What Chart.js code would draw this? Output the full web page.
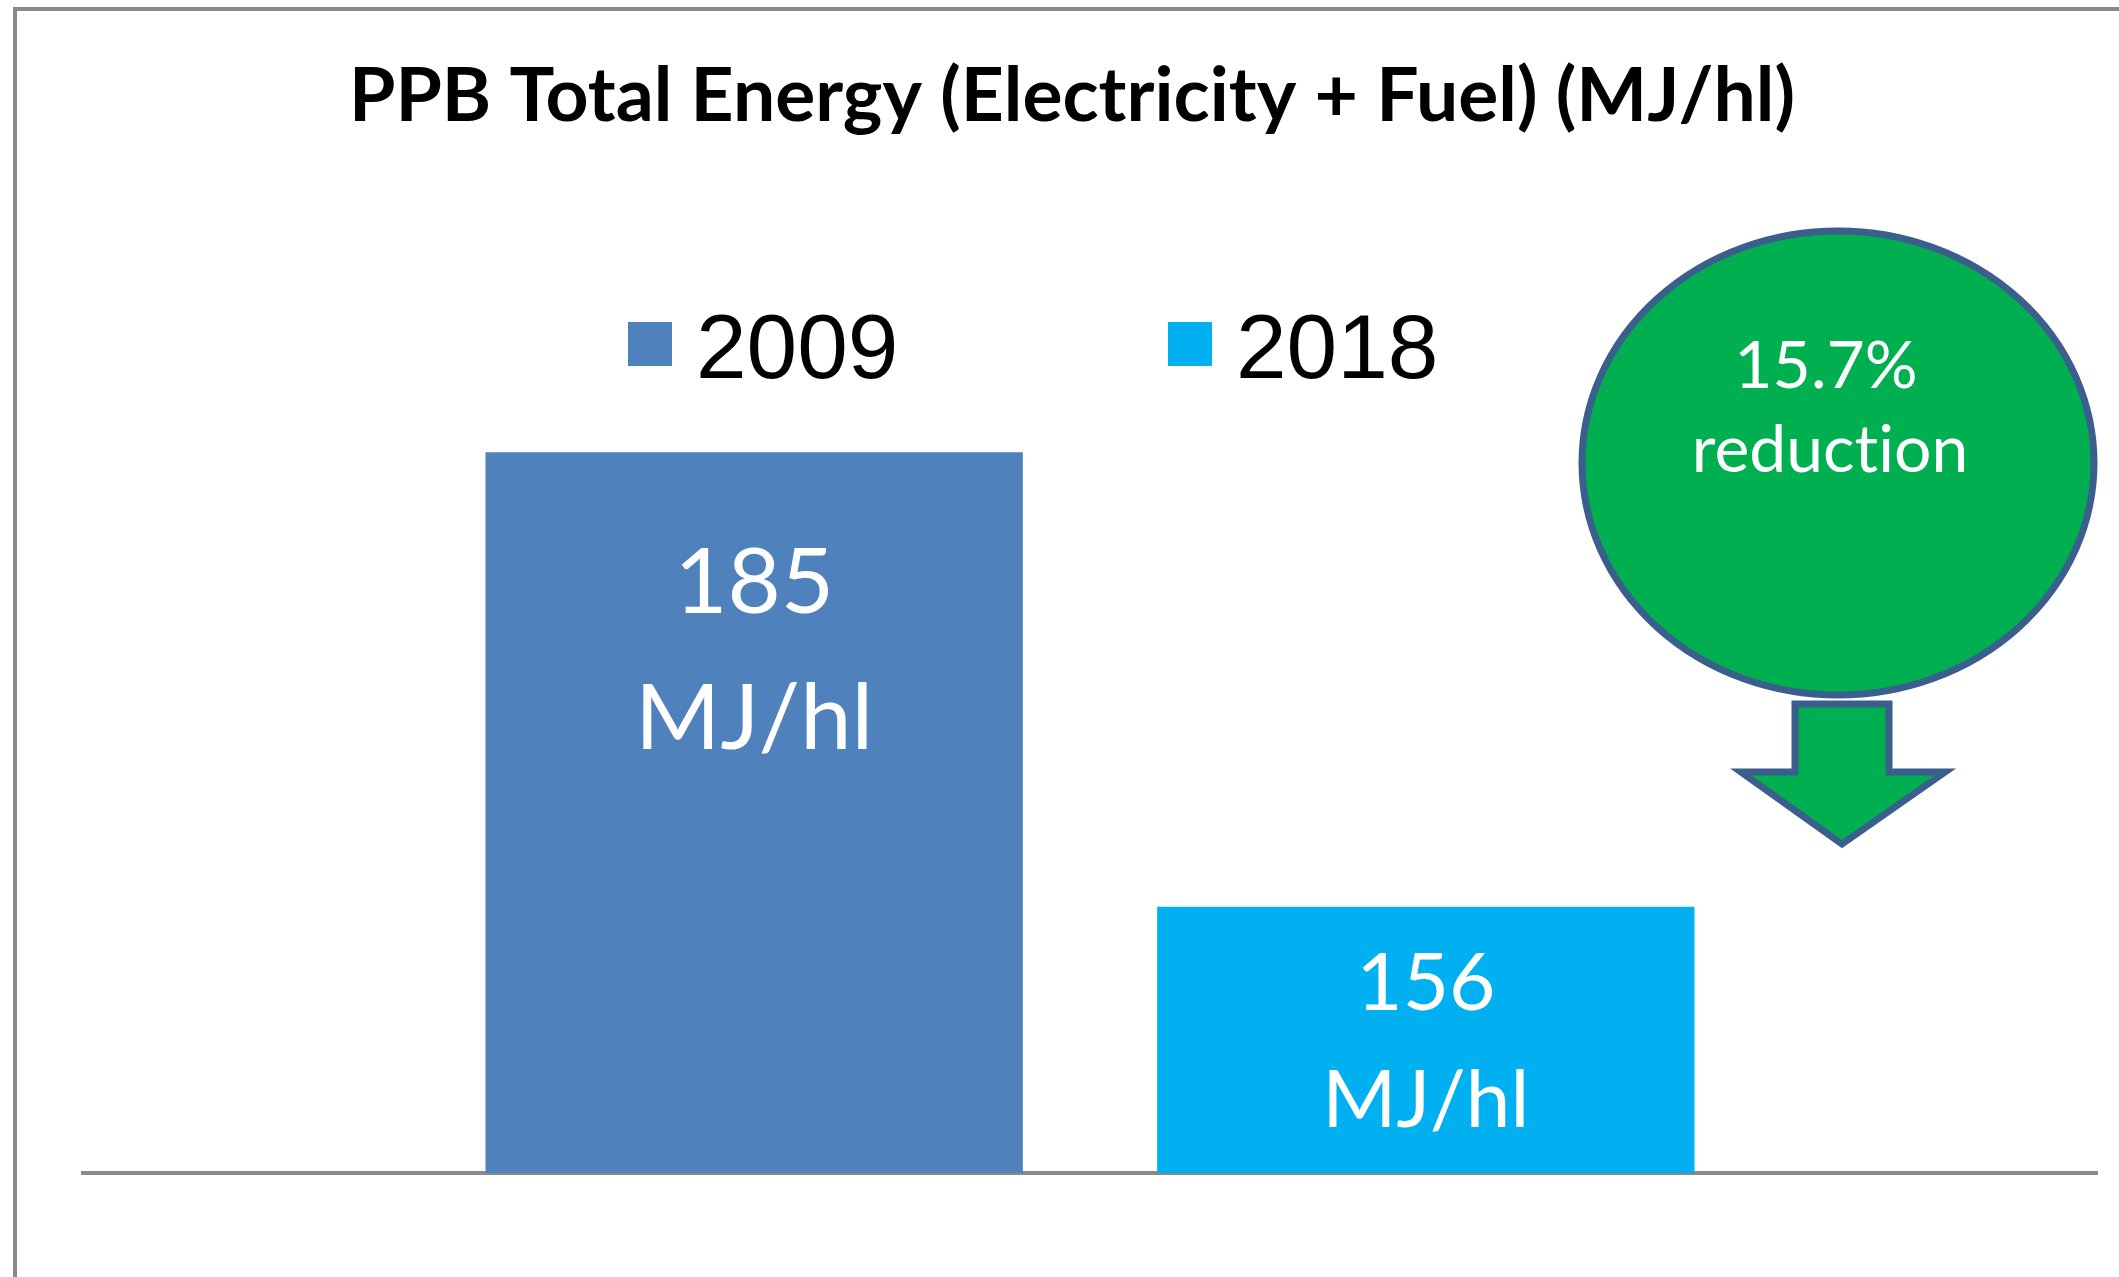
<!DOCTYPE html>
<html>
<head>
<meta charset="utf-8">
<title>PPB Total Energy</title>
<script src="https://cdn.jsdelivr.net/npm/chart.js@4.4.1/dist/chart.umd.min.js"></script>
<style>
  html, body { margin: 0; padding: 0; background: #fff; overflow: hidden; }
  #marco { position: absolute; left: 13px; top: 7px; width: 2200px; height: 1400px; border: 4px solid #898989; }
  #contenedor { position: absolute; left: 0; top: 0; width: 2119px; height: 1277px; }
</style>
</head>
<body>
<div id="marco"></div>
<div id="contenedor"><canvas id="grafico_energia"></canvas></div>
<script>
// datos del grafico
const categorias = ['PPB'];
const series = ['2009', '2018'];
const valores2009 = [185];
const valores2018 = [156];
const unidad = 'MJ/hl';
const titulo = 'PPB Total Energy (Electricity + Fuel) (MJ/hl)';
const rangoY = [139, 190];

const colores = ['#4F81BD', '#00B0F0'];
const tamEtiqueta = [92, 80];

// etiquetas blancas dentro de las barras
const etiquetasBarras = {
  id: 'etiquetasBarras',
  afterDatasetsDraw(chart) {
    let ctx = chart.ctx;
    let fondo = chart.chartArea.bottom;
    chart.data.datasets.forEach(function (ds, i) {
      chart.getDatasetMeta(i).data.forEach(function (barra, j) {
        let tam = tamEtiqueta[i];
        let centro = Math.min(barra.y + 199, (barra.y + fondo) / 2 + 3);
        let salto = tam * 1.47;
        ctx.save();
        ctx.fillStyle = '#fff';
        ctx.font = tam + 'px Lato';
        ctx.textRendering = 'optimizeSpeed';
        ctx.textAlign = 'center';
        ctx.textBaseline = 'middle';
        ctx.fillText(String(ds.data[j]), barra.x, centro - salto / 2);
        ctx.fillText(unidad, barra.x, centro + salto / 2);
        ctx.restore();
      });
    });
  }
};

// leyenda dibujada a mano para respetar el espaciado del original
const leyenda = {
  id: 'leyenda',
  afterDraw(chart) {
    let ctx = chart.ctx;
    let inicios = [628, 1168];
    chart.data.datasets.forEach(function (ds, i) {
      ctx.save();
      ctx.fillStyle = ds.backgroundColor;
      ctx.fillRect(inicios[i], 322, 44, 44);
      ctx.fillStyle = '#000';
      ctx.font = '91px "Liberation Sans", Arial';
      ctx.textAlign = 'left';
      ctx.textBaseline = 'alphabetic';
      ctx.fillText(ds.label, inicios[i] + 68, 378);
      ctx.restore();
    });
  }
};

// circulo verde con la flecha de reduccion
const reduccion = {
  id: 'reduccion',
  afterDraw(chart) {
    let ctx = chart.ctx;
    let a = valores2009[0], b = valores2018[0];
    let pct = ((a - b) / a * 100).toFixed(1) + '%';
    ctx.save();
    ctx.fillStyle = '#00B050';
    ctx.strokeStyle = '#3B5F8C';
    ctx.lineWidth = 7;
    ctx.beginPath();
    ctx.ellipse(1838, 463, 256, 232, 0, 0, 2 * Math.PI);
    ctx.fill();
    ctx.stroke();

    ctx.beginPath();
    ctx.moveTo(1795, 704);
    ctx.lineTo(1889, 704);
    ctx.lineTo(1889, 772);
    ctx.lineTo(1945, 772);
    ctx.lineTo(1842, 844);
    ctx.lineTo(1741, 772);
    ctx.lineTo(1795, 772);
    ctx.closePath();
    ctx.fill();
    ctx.stroke();

    ctx.fillStyle = '#fff';
    ctx.font = '66px Lato';
    ctx.textRendering = 'optimizeSpeed';
    ctx.textAlign = 'center';
    ctx.textBaseline = 'alphabetic';
    ctx.fillText(pct, 1826, 388);
    ctx.fillText('reduction', 1830, 472);
    ctx.restore();
  }
};

var ctx = document.getElementById('grafico_energia').getContext('2d');

new Chart(ctx, {
  type: 'bar',
  data: {
    labels: categorias,
    datasets: [
      { label: series[0], data: valores2009, backgroundColor: colores[0] },
      { label: series[1], data: valores2018, backgroundColor: colores[1] }
    ]
  },
  options: {
    responsive: true,
    maintainAspectRatio: false,
    animation: false,
    layout: { padding: { left: 47, right: 22, top: 0, bottom: 96 } },
    datasets: { bar: { categoryPercentage: 0.667, barPercentage: 0.8 } },
    scales: {
      x: {
        grid: { display: false },
        ticks: { display: false },
        border: { display: true, color: '#898989', width: 4 }
      },
      y: {
        min: rangoY[0],
        max: rangoY[1],
        grid: { display: false },
        ticks: { display: false },
        border: { display: false },
        afterFit: function (s) { s.width = 36; }
      }
    },
    plugins: {
      legend: { display: false },
      tooltip: { enabled: false },
      title: {
        display: true,
        text: titulo,
        color: '#000',
        font: { family: 'Lato', size: 75, weight: 'bold', lineHeight: 1.2 },
        padding: { top: 52, bottom: 232 }
      }
    }
  },
  plugins: [etiquetasBarras, leyenda, reduccion]
});
</script>
</body>
</html>
